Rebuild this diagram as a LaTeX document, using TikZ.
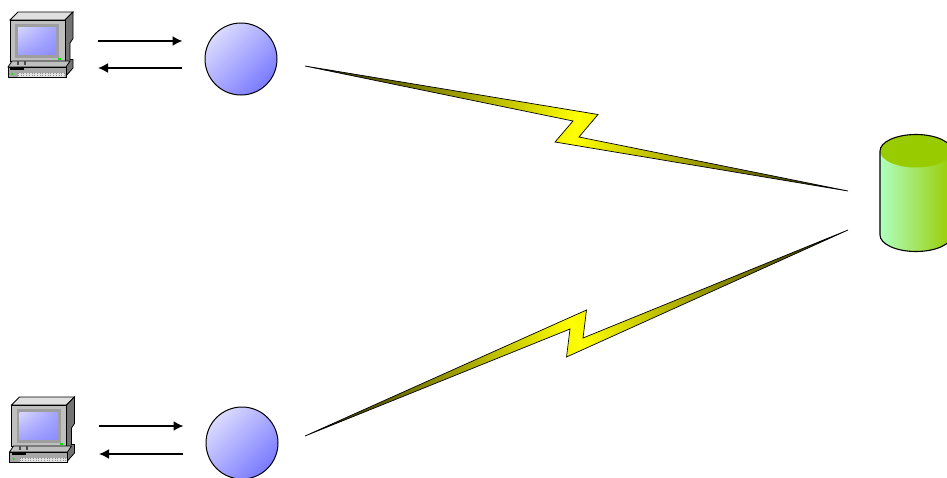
\documentclass[tikz,border=0pt]{standalone}
\usetikzlibrary{arrows.meta,shadings}
\definecolor{boltdark}{HTML}{222200}
\definecolor{cylgreen}{HTML}{99CC00}
\definecolor{cyllight}{HTML}{AEFFC0}
\definecolor{hubGrA}{HTML}{E0E0FF}
\definecolor{hubGrB}{HTML}{7474FF}
\definecolor{scrA}{HTML}{D6D6FF}
\definecolor{scrB}{HTML}{8C8CFF}
\tikzset{
  hubnode/.style={circle,minimum size=72pt,inner sep=0pt},
  link/.style={-{Latex[length=10pt,width=10pt]},line width=1.7pt,black},
  boltline/.style={draw=black,line width=.7pt,line join=miter},
  pc/.pic={
    % top face
    \fill[draw=black,line width=.8pt,fill=black!12] (10,20)--(18,12)--(73,12)--(65,20)--cycle;
    % side
    \fill[draw=black,line width=.8pt,fill=black!55] (65,20)--(73,12)--(73,38.5)--(70,43)--(70,59.5)--(73,59.5)--(73,68)--(65,77)--(65,60)--cycle;
    % bezel
    \fill[draw=black,line width=.8pt,fill=black!25] (10,20) rectangle (65,61);
    \fill[black!38] (15,24) rectangle (59,57.5);
    \shade[upper left=scrA,upper right=scrB!70!scrA,lower left=scrB!70!scrA,lower right=scrB] (18,27.5) rectangle (56,54);
    \fill[green!90!black] (58,58) rectangle (61,60.2);
    % base
    \fill[draw=black,line width=.8pt,fill=black!25] (8,67)--(12,61)--(70,61)--(66,67)--cycle;
    \fill[draw=black,line width=.8pt,fill=black!35] (8,67) rectangle (66,77);
    \fill[black!70] (17,61) rectangle (19,65);
    \fill[black!70] (24,61) rectangle (26,65);
    \fill[black] (10,68) rectangle (24,70);
    \fill[black!10] (18,72.5) rectangle (65,76.5);
    \draw[black!45,dotted,line width=.7pt] (18,73.5)--(65,73.5) (18,75.5)--(65,75.5);
    \fill[green!90!black] (12.3,74) circle (1.1);
  }
}
\begin{document}
\begin{tikzpicture}[x=1pt,y=-1pt]
\path[use as bounding box,clip] (0,0) rectangle (947,477);

% computers
\pic at (0,0) {pc};
\pic at (1.5,385) {pc};

% hubs
\node[hubnode] (hubT) at (241,59) {};
\node[hubnode] (hubB) at (242,443) {};
\foreach \h in {hubT,hubB}{
  \begin{scope}
    \clip (\h) circle (36);
    \begin{scope}[transform canvas={rotate around={-45:(\h)}}]
      \shade[left color=hubGrA,right color=hubGrB] ([xshift=-40pt,yshift=-40pt]\h) rectangle ([xshift=40pt,yshift=40pt]\h);
    \end{scope}
  \end{scope}
  \draw[black,line width=1pt] (\h) circle (36);
}

% arrow ends
\coordinate (a1) at (98,41);  \coordinate (a2) at (182.5,41);
\coordinate (a3) at (182,68); \coordinate (a4) at (98,68);
\coordinate (b1) at (99,426); \coordinate (b2) at (183.5,426);
\coordinate (b3) at (183,454);\coordinate (b4) at (99,454);
\draw[link] (a1)--(a2);
\draw[link] (a3)--(a4);
\draw[link] (b1)--(b2);
\draw[link] (b3)--(b4);

% upper bolt
\begin{scope}
  \clip (305,66)--(598,114.5)--(579,137)--(848,191)--(555,142)--(573,121)--cycle;
  \begin{scope}[transform canvas={rotate around={-12.96:(576,128)}}]
    \shade[left color=boltdark,right color=boltdark,middle color=yellow] (297,28) rectangle (855,228);
  \end{scope}
\end{scope}
\draw[boltline] (305,66)--(598,114.5)--(579,137)--(848,191)--(555,142)--(573,121)--cycle;

% lower bolt
\begin{scope}
  \clip (305,436)--(586.5,310)--(583,338)--(848,230)--(566.5,357)--(570,329)--cycle;
  \begin{scope}[transform canvas={rotate around={20.8:(576,333)}}]
    \shade[left color=boltdark,right color=boltdark,middle color=yellow] (286,233) rectangle (866,433);
  \end{scope}
\end{scope}
\draw[boltline] (305,436)--(586.5,310)--(583,338)--(848,230)--(566.5,357)--(570,329)--cycle;

% cylinder
\shade[left color=cyllight,right color=cylgreen]
  (880,151) arc[start angle=180,end angle=360,x radius=36,y radius=16.5] -- (952,235)
  arc[start angle=0,end angle=180,x radius=36,y radius=16.5] -- cycle;
\fill[cylgreen] (916,151) ellipse[x radius=36,y radius=16.5];
\draw[black,line width=1.1pt] (880,235) -- (880,151) arc[start angle=180,end angle=360,x radius=36,y radius=16.5];
\draw[black,line width=1.1pt] (880,235) arc[start angle=180,end angle=0,x radius=36,y radius=16.5];
\end{tikzpicture}
\end{document}
